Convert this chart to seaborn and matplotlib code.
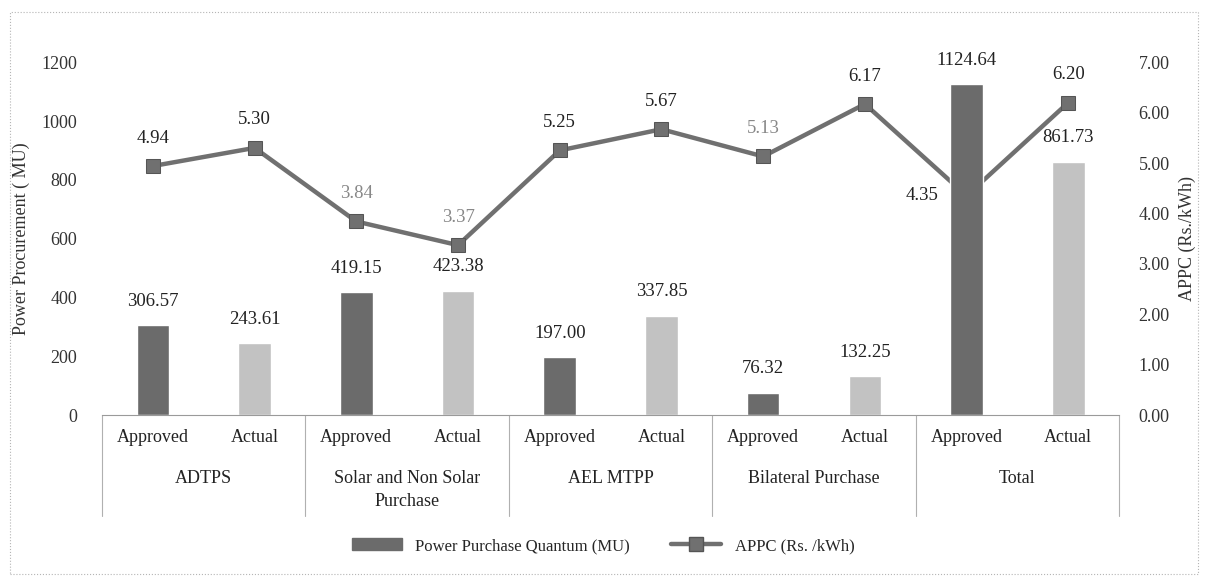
import pandas as pd
import seaborn as sns
import matplotlib.pyplot as plt
from matplotlib.patches import Patch, Rectangle
from matplotlib.lines import Line2D
import matplotlib.transforms as mtransforms

groups = ["ADTPS", "Solar and Non Solar\nPurchase", "AEL MTPP", "Bilateral Purchase", "Total"]
kinds = ["Approved", "Actual"]
approved_mu = [306.57, 419.15, 197.00, 76.32, 1124.64]
actual_mu = [243.61, 423.38, 337.85, 132.25, 861.73]
approved_appc = [4.94, 3.84, 5.25, 5.13, 4.35]
actual_appc = [5.30, 3.37, 5.67, 6.17, 6.20]

# interleave approved / actual per group
rows = []
for g, ap, ac, pa, pc in zip(groups, approved_mu, actual_mu, approved_appc, actual_appc):
    rows.append({"slot": g + "|Approved", "group": g, "kind": "Approved", "mu": ap, "appc": pa})
    rows.append({"slot": g + "|Actual", "group": g, "kind": "Actual", "mu": ac, "appc": pc})
df = pd.DataFrame(rows)
df["pos"] = range(len(df))

sns.set_style("white")
plt.rcParams["font.family"] = ["Liberation Serif", "DejaVu Serif"]

dark = "#6b6b6b"
light = "#c2c2c2"
line_col = "#707070"

fig = plt.figure(figsize=(12.06, 5.76), dpi=100)
ax = fig.add_axes([0.0846, 0.2795, 0.8434, 0.6125])
ax2 = ax.twinx()
# bars drawn over the line (line passes behind the Total bar)
ax.set_zorder(ax2.get_zorder() + 1)
ax.patch.set_visible(False)

sns.barplot(data=df, x="slot", y="mu", hue="kind", order=list(df["slot"]),
            palette={"Approved": dark, "Actual": light}, dodge=False,
            width=0.32, legend=False, ax=ax, saturation=1)
ax.set_xlim(-0.5, len(df) - 0.5)
ax.set_ylim(0, 1200)
ax.set_yticks(range(0, 1201, 200))
ax.tick_params(axis="y", labelsize=13, pad=18, length=0, colors="#333333")
ax.set_xticks(df["pos"])
ax.set_xticklabels(df["kind"], fontsize=13, color="#222222")
ax.tick_params(axis="x", length=0, pad=10)
ax.set_xlabel("")
ax.set_ylabel("Power Procurement ( MU)", fontsize=13, color="#333333", labelpad=8)
for s in ["top", "left", "right"]:
    ax.spines[s].set_visible(False)
ax.spines["bottom"].set_color("#9a9a9a")

for _, r in df.iterrows():
    ax.annotate(f"{r['mu']:.2f}", (r["pos"], r["mu"]), xytext=(0, 11),
                textcoords="offset points", ha="center", va="bottom",
                fontsize=13.5, color="#222222")

sns.lineplot(x=df["pos"], y=df["appc"], ax=ax2, color=line_col, lw=3.2,
             marker="s", markersize=10, markerfacecolor=line_col,
             markeredgecolor="#555555")
ax2.set_ylim(0, 7)
ax2.set_yticks(range(0, 8))
ax2.set_yticklabels([f"{v:.2f}" for v in range(0, 8)])
ax2.tick_params(axis="y", labelsize=13, pad=14, length=0, colors="#333333")
ax2.set_ylabel("APPC (Rs./kWh)", fontsize=13, color="#333333", labelpad=6)
ax2.set_xlim(-0.5, len(df) - 0.5)
for s in ["top", "left", "right", "bottom"]:
    ax2.spines[s].set_visible(False)

faint = {"Solar and Non Solar\nPurchase|Approved", "Solar and Non Solar\nPurchase|Actual",
         "Bilateral Purchase|Approved"}
for _, r in df.iterrows():
    col = "#888888" if r["slot"] in faint else "#222222"
    if r["slot"] == "Total|Approved":
        ax2.annotate(f"{r['appc']:.2f}", (r["pos"], r["appc"]), xytext=(-20, 0),
                     textcoords="offset points", ha="right", va="center",
                     fontsize=13.5, color=col)
    else:
        ax2.annotate(f"{r['appc']:.2f}", (r["pos"], r["appc"]), xytext=(0, 14),
                     textcoords="offset points", ha="center", va="bottom",
                     fontsize=13.5, color=col)

# group boxes under the axis
trans = mtransforms.blended_transform_factory(ax.transData, ax.transAxes)
for i in range(len(groups) + 1):
    x = i * 2 - 0.5
    ax.plot([x, x], [0, -0.285], transform=trans, color="#b0b0b0", lw=0.8,
            clip_on=False)
for i, g in enumerate(groups):
    ax.text(i * 2 + 0.5, -0.155, g, transform=trans, ha="center", va="top",
            fontsize=13, color="#222222", linespacing=1.45)

handles = [Patch(facecolor=dark, edgecolor=dark),
           Line2D([0], [0], color=line_col, lw=3.2, marker="s", markersize=10,
                  markerfacecolor=line_col, markeredgecolor="#555555")]
fig.legend(handles, ["Power Purchase Quantum (MU)", "APPC (Rs. /kWh)"],
           loc="center", bbox_to_anchor=(0.5, 0.052), ncol=2, frameon=False,
           fontsize=12, handlelength=3, columnspacing=2.5)

fig.patches.append(Rectangle((0.008, 0.004), 0.985, 0.975, transform=fig.transFigure,
                             fill=False, ls=":", lw=0.8, ec="#b5b5b5"))

fig.savefig("out.png", dpi=100)
